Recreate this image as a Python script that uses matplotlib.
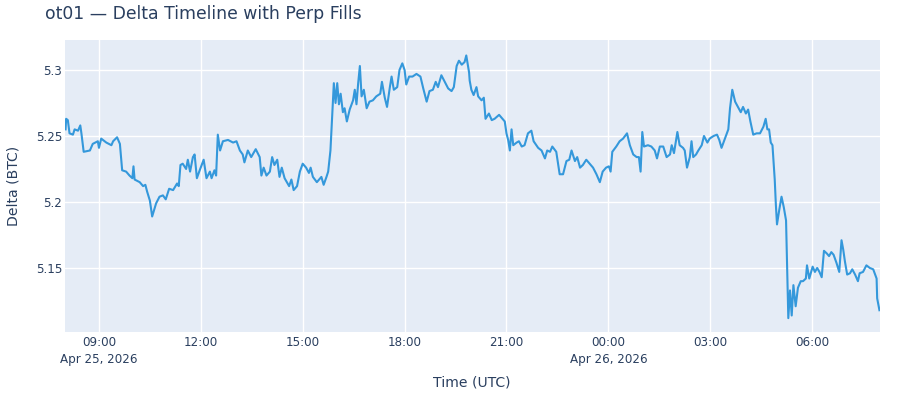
import matplotlib
matplotlib.use("Agg")
import matplotlib.pyplot as plt
from datetime import datetime, timedelta

# ---- data ----
start_time = datetime(2026, 4, 25, 8, 0)
minutes = [1, 2, 5, 8, 14, 17, 23, 27, 29, 33, 44, 49, 58, 60, 64, 73, 82, 85, 92, 97,
           101, 108, 114, 119, 121, 123, 132, 138, 142, 145, 150, 154, 161, 167, 173, 178,
           184, 191, 198, 201, 204, 208, 214, 217, 221, 226, 229, 233, 238, 245, 250, 256,
           259, 264, 267, 270, 274, 279, 288, 297, 303, 309, 314, 317, 323, 329, 337, 344,
           347, 351, 356, 362, 366, 370, 375, 379, 383, 388, 396, 400, 404, 410, 415, 420,
           426, 431, 434, 438, 445, 453, 457, 462, 465, 469, 472, 475, 478, 481, 484, 487,
           491, 494, 498, 503, 509, 512, 515, 518, 521, 524, 528, 533, 538, 544, 550, 557,
           560, 565, 569, 574, 577, 581, 587, 591, 596, 600, 603, 608, 614, 621, 628, 633,
           639, 644, 650, 655, 659, 665, 671, 677, 683, 687, 692, 696, 701, 706, 709, 714,
           715, 718, 722, 727, 730, 736, 740, 743, 749, 754, 759, 767, 773, 777, 780, 783,
           786, 789, 792, 798, 802, 807, 812, 818, 824, 828, 836, 842, 848, 852, 857, 861,
           868, 874, 880, 886, 891, 895, 901, 905, 910, 915, 921, 927, 933, 939, 945, 950,
           956, 961, 964, 967, 974, 980, 986, 993, 998, 1004, 1010, 1014, 1017, 1020, 1023,
           1030, 1036, 1042, 1046, 1051, 1057, 1063, 1069, 1072, 1076, 1082, 1086, 1092,
           1095, 1099, 1104, 1107, 1110, 1115, 1119, 1125, 1129, 1135, 1139, 1146, 1152,
           1156, 1160, 1166, 1172, 1175, 1179, 1184, 1189, 1194, 1198, 1203, 1207, 1211,
           1216, 1222, 1228, 1234, 1238, 1241, 1244, 1247, 1250, 1254, 1256, 1258, 1262,
           1266, 1270, 1274, 1276, 1278, 1281, 1284, 1287, 1291, 1295, 1300, 1304, 1309,
           1311, 1315, 1321, 1325, 1329, 1333, 1337, 1341, 1346, 1350, 1354, 1358, 1363,
           1368, 1372, 1375, 1378, 1382, 1387, 1391, 1396, 1401, 1404, 1410, 1416, 1422,
           1428, 1434, 1435, 1439]
delta_btc = [5.255, 5.263, 5.262, 5.252, 5.251, 5.255, 5.254, 5.258, 5.252, 5.238, 5.239,
             5.244, 5.246, 5.241, 5.248, 5.245, 5.243, 5.246, 5.249, 5.244,
             5.224, 5.223, 5.220, 5.218, 5.227, 5.217, 5.215, 5.212, 5.213, 5.208, 5.201,
             5.189, 5.199, 5.204, 5.205, 5.202,
             5.210, 5.209, 5.214, 5.212, 5.228, 5.229, 5.225, 5.232, 5.223, 5.234, 5.236,
             5.218, 5.224, 5.232, 5.218, 5.223,
             5.218, 5.224, 5.220, 5.251, 5.239, 5.246, 5.247, 5.245, 5.246, 5.239, 5.236,
             5.230, 5.239, 5.234, 5.240, 5.234,
             5.220, 5.226, 5.220, 5.223, 5.234, 5.228, 5.232, 5.219, 5.226, 5.218, 5.212,
             5.217, 5.209, 5.212, 5.223, 5.229,
             5.226, 5.222, 5.226, 5.219, 5.215, 5.219, 5.213, 5.219, 5.223, 5.239, 5.265,
             5.290, 5.275, 5.290, 5.274, 5.282,
             5.268, 5.271, 5.261, 5.270, 5.277, 5.285, 5.274, 5.290, 5.303, 5.280, 5.285,
             5.271, 5.276, 5.277, 5.280, 5.282,
             5.291, 5.279, 5.272, 5.287, 5.295, 5.285, 5.287, 5.300, 5.305, 5.300, 5.289,
             5.295, 5.295, 5.297, 5.295, 5.286,
             5.276, 5.284, 5.285, 5.291, 5.287, 5.296, 5.291, 5.286, 5.284, 5.287, 5.303,
             5.307, 5.304, 5.306, 5.311, 5.298,
             5.292, 5.285, 5.281, 5.287, 5.280, 5.277, 5.279, 5.263, 5.267, 5.262, 5.263,
             5.266, 5.263, 5.261, 5.252, 5.247,
             5.239, 5.255, 5.243, 5.245, 5.246, 5.242, 5.243, 5.252, 5.254, 5.246, 5.241,
             5.239, 5.233, 5.239, 5.238, 5.242,
             5.238, 5.221, 5.221, 5.231, 5.232, 5.239, 5.231, 5.234, 5.226, 5.228, 5.232,
             5.229, 5.226, 5.221, 5.215, 5.223,
             5.226, 5.227, 5.223, 5.238, 5.242, 5.246, 5.248, 5.252, 5.243, 5.236, 5.234,
             5.234, 5.223, 5.253, 5.242,
             5.243, 5.242, 5.239, 5.233, 5.242, 5.242, 5.234, 5.236, 5.243, 5.237, 5.253,
             5.243, 5.241,
             5.239, 5.226, 5.234, 5.246, 5.234, 5.236, 5.239, 5.243, 5.250, 5.245, 5.248,
             5.250, 5.251,
             5.247, 5.241, 5.248, 5.255, 5.271, 5.285, 5.276, 5.272, 5.268, 5.272, 5.267,
             5.270, 5.261,
             5.251, 5.252, 5.252, 5.257, 5.263, 5.255, 5.255, 5.245, 5.243, 5.217, 5.198,
             5.183, 5.194,
             5.204, 5.196, 5.186, 5.149, 5.112, 5.133, 5.114, 5.137, 5.121, 5.135, 5.140,
             5.140, 5.142,
             5.152, 5.142, 5.151, 5.147, 5.150, 5.147, 5.143, 5.163, 5.161, 5.159, 5.162,
             5.160, 5.154,
             5.147, 5.171, 5.164, 5.155, 5.145, 5.146, 5.149, 5.145, 5.140, 5.146, 5.147,
             5.152, 5.150,
             5.149, 5.142, 5.127, 5.118]

xtick_hours = [1, 4, 7, 10, 13, 16, 19, 22]
xtick_labels = ["09:00\nApr 25, 2026", "12:00", "15:00", "18:00", "21:00",
                "00:00\nApr 26, 2026", "03:00", "06:00"]
ytick_values = [5.15, 5.2, 5.25, 5.3]
ytick_labels = ["5.15", "5.2", "5.25", "5.3"]

title = "ot01 — Delta Timeline with Perp Fills"
x_title = "Time (UTC)"
y_title = "Delta (BTC)"

# ---- style ----
TEXT = "#2a3f5f"
BG = "#E5ECF6"
LINE = "#3498db"
plt.rcParams["font.family"] = ["DejaVu Sans"]

times = [start_time + timedelta(minutes=m) for m in minutes]
xticks = [start_time + timedelta(hours=h) for h in xtick_hours]

fig = plt.figure(figsize=(9, 4), dpi=100)
ax = fig.add_axes([65 / 900, 1 - 332 / 400, 815 / 900, 292 / 400])
ax.set_facecolor(BG)
ax.plot(times, delta_btc, color=LINE, linewidth=1.5, solid_joinstyle="round")

ax.set_xlim(start_time, start_time + timedelta(minutes=1440))
ax.set_ylim(5.1015, 5.3227)
ax.set_xticks(xticks)
ax.set_xticklabels(xtick_labels, fontsize=8.6, color=TEXT, linespacing=1.35)
ax.set_yticks(ytick_values)
ax.set_yticklabels(ytick_labels, fontsize=8.6, color=TEXT)
ax.tick_params(axis="both", length=0)
ax.tick_params(axis="x", pad=3)
ax.tick_params(axis="y", pad=2)
for lbl in ax.get_xticklabels():
    lbl.set_verticalalignment("top")
ax.grid(True, color="white", linewidth=1.0)
ax.set_axisbelow(True)
for s in ax.spines.values():
    s.set_visible(False)

fig.text(45 / 900, 1 - 14 / 400, title, fontsize=12.45, color=TEXT, va="center", ha="left")
fig.text(472 / 900, 1 - 382 / 400, x_title, fontsize=10.1, color=TEXT, va="center", ha="center")
fig.text(14 / 900, 1 - 186 / 400, y_title, fontsize=10.1, color=TEXT, va="center", ha="center",
         rotation=90)

fig.savefig("out.png", dpi=100, facecolor="white")
